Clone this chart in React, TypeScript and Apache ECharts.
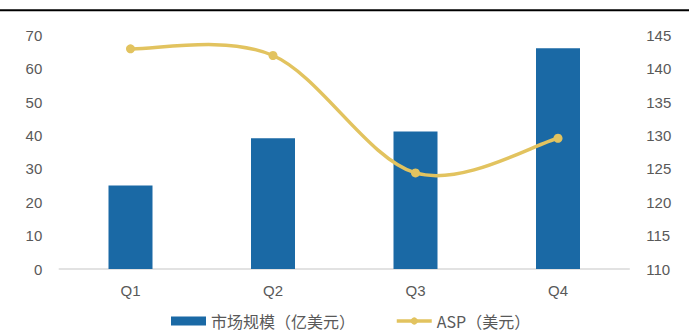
import React, { useEffect, useRef } from "react";
import * as echarts from "echarts";

const categories = ["Q1", "Q2", "Q3", "Q4"];
const marketSize = [25.0, 39.2, 41.2, 66.2];
const asp = [143.0, 142.0, 124.4, 129.6];
const barName = "市场规模（亿美元）";
const lineName = "ASP（美元）";
const lineColor = "#E2C35F";

export default function App() {
  const ref = useRef<HTMLDivElement>(null);
  useEffect(() => {
    document.body.style.margin = "0";
    const chart = echarts.init(ref.current!, null, { renderer: "svg" });
    const font = "'Liberation Sans', Arial, sans-serif";
    chart.setOption({
      animation: false,
      backgroundColor: "#ffffff",
      textStyle: { fontFamily: font },
      graphic: [
        {
          type: "rect",
          shape: { x: 0, y: 9.3, width: 689, height: 2 },
          style: { fill: "#000000" },
        },
      ],
      legend: {
        bottom: 2,
        left: 166,
        itemGap: 40,
        itemWidth: 35,
        itemHeight: 9,
        textStyle: {
          fontSize: 16,
          color: "#595959",
          fontFamily: "'Noto Sans CJK SC', " + font,
        },
        data: [
          { name: barName, icon: "rect" },
          {
            name: lineName,
            lineStyle: { color: lineColor, width: 3.5, opacity: 1 },
            itemStyle: { color: lineColor },
          },
        ],
      },
      grid: { left: 59.25, right: 59.75, top: 35.5, bottom: 67 },
      xAxis: {
        type: "category",
        data: categories,
        axisLine: { lineStyle: { color: "#D9D9D9", width: 1.5 } },
        axisTick: { show: false },
        axisLabel: { color: "#595959", fontSize: 15, margin: 14 },
      },
      yAxis: [
        {
          type: "value",
          min: 0,
          max: 70,
          interval: 10,
          splitLine: { show: false },
          axisLine: { show: false },
          axisTick: { show: false },
          axisLabel: { color: "#595959", fontSize: 15, margin: 17 },
        },
        {
          type: "value",
          min: 110,
          max: 145,
          interval: 5,
          splitLine: { show: false },
          axisLine: { show: false },
          axisTick: { show: false },
          axisLabel: { color: "#595959", fontSize: 15, margin: 17 },
        },
      ],
      series: [
        {
          name: barName,
          type: "bar",
          data: marketSize,
          barWidth: 44,
          itemStyle: { color: "#1A69A5" },
        },
        {
          type: "custom",
          yAxisIndex: 1,
          z: 3,
          silent: true,
          data: asp.map((v, i) => [i, v]),
          renderItem: (params: any, api: any) => {
            if (params.dataIndex !== 0) return null;
            const pts = asp.map((v, i) => api.coord([i, v]));
            const n = pts.length;
            const t = 1 / 6;
            let d = `M${pts[0][0]},${pts[0][1]}`;
            for (let i = 0; i < n - 1; i++) {
              const p0 = pts[Math.max(i - 1, 0)];
              const p1 = pts[i];
              const p2 = pts[i + 1];
              const p3 = pts[Math.min(i + 2, n - 1)];
              const c1x = p1[0] + (p2[0] - p0[0]) * t;
              const c1y = p1[1] + (p2[1] - p0[1]) * t;
              const c2x = p2[0] - (p3[0] - p1[0]) * t;
              const c2y = p2[1] - (p3[1] - p1[1]) * t;
              d += ` C${c1x},${c1y} ${c2x},${c2y} ${p2[0]},${p2[1]}`;
            }
            return {
              type: "path",
              shape: { pathData: d },
              style: { fill: "none", stroke: lineColor, lineWidth: 3.5 },
            };
          },
        },
        {
          name: lineName,
          type: "line",
          yAxisIndex: 1,
          z: 4,
          data: asp,
          symbol: "circle",
          symbolSize: 9,
          lineStyle: { color: lineColor, width: 0, opacity: 0 },
          itemStyle: { color: lineColor },
        },
      ],
    });
    return () => chart.dispose();
  }, []);
  return <div ref={ref} style={{ width: 689, height: 336 }} />;
}
